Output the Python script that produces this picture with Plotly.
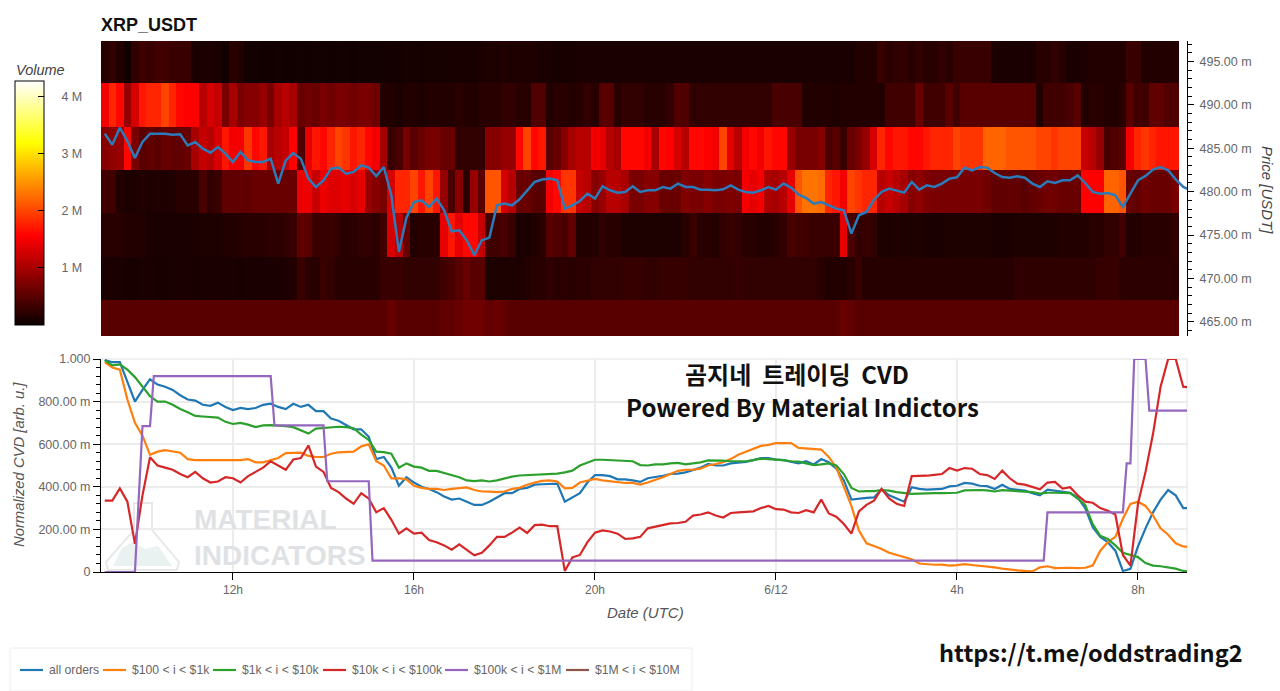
import pandas as pd
import plotly.graph_objects as go

W, H = 1280, 691

# heatmap: volume in M per 10 min column, one list per price band
price_bands = [465, 470, 475, 480, 485, 490, 495]

vol_495 = [.2,.25,.15,.05,.25,.35,.3,.35,.35,.3,
           .3,.3,.1,.1,.1,.1,.05,.2,.15,.06,
           .06,.05,.05,.06,.05,.05,.06,.05,.06,.06,
           .05,.06,.06,.05,.06,.06,.06,.06,.07,.07,
           .08,.08,.07,.08,.08,.08,.08,.09,.09,.08,
           .1,.12,.12,.14,.12,.13,.13,.12,.1,.1,
           .08,.08,.09,.1,.1,.1,.1,.11,.1,.1,
           .1,.1,.1,.1,.11,.11,.1,.1,.1,.1,
           .1,.11,.1,.1,.1,.1,.11,.1,.1,.1,
           .1,.1,.1,.1,.1,.11,.1,.1,.1,.1,
           .15,.15,.15,.3,.2,.25,.25,.2,.25,.2,
           .2,.25,.2,.3,.3,.3,.3,.3,.12,.1,
           .1,.1,.1,.1,.2,.2,.25,.2,.1,.1,
           .12,.15,.15,.15,.15,.15,.3,.3,.15,.15,
           .15,.15,.15]
vol_490 = [1.5,1.8,1.6,.9,1.3,1.7,1.8,1.8,2.0,1.8,
           1.6,1.55,1.55,1.1,1.3,1.2,.7,1.0,.7,.8,
           .8,.9,.7,1.0,1.1,1.0,.6,.65,.6,.7,
           .65,.7,.7,.65,.7,.7,.65,.15,.15,.1,
           .15,.15,.12,.15,.15,.15,.15,.2,.15,.15,
           .2,.2,.2,.25,.25,.2,.2,.45,.45,.15,
           .2,.2,.15,.2,.25,.2,.5,.5,.2,.25,
           .25,.25,.2,.2,.2,.25,.45,.45,.25,.25,
           .25,.25,.25,.25,.25,.25,.25,.25,.25,.4,
           .4,.4,.4,.15,.15,.15,.15,.12,.15,.15,
           .15,.15,.15,.15,.35,.35,.35,.35,.6,.35,
           .35,.35,.5,.35,.5,.5,.5,.5,.5,.5,
           .5,.5,.5,.5,.15,.35,.35,.35,.4,.5,
           .15,.2,.2,.15,.15,.2,.5,.35,.35,.55,
           .55,.45,.45]
vol_485 = [.8,.85,.9,1.6,.7,.5,.55,.5,.6,.55,
           .55,.6,1.0,1.2,1.1,1.3,1.7,1.5,1.5,1.9,
           1.6,1.7,1.0,1.1,1.2,1.55,.45,1.4,1.7,1.6,
           1.8,2.0,1.9,1.7,1.8,1.6,1.5,1.0,.3,.4,
           .7,.5,.6,.7,.7,.6,.6,.25,.25,.25,
           .25,.8,.8,.9,.9,1.6,2.0,1.6,1.7,.5,
           .6,.8,1.0,1.1,1.1,1.5,1.4,1.1,1.0,1.6,
           1.6,1.6,1.5,1.0,1.6,1.55,1.3,1.1,1.6,1.6,
           1.55,1.5,2.0,1.4,1.1,1.5,1.6,1.5,1.7,1.6,
           1.6,.9,.7,.7,.7,.8,.4,.5,.3,.6,
           .7,.9,1.3,1.8,1.6,1.7,1.7,1.6,1.6,1.7,
           1.8,1.8,1.8,2.0,1.9,1.9,1.9,2.2,2.2,2.2,
           2.1,2.1,2.1,2.1,2.0,2.0,1.9,2.0,2.0,2.0,
           1.2,1.1,.9,.4,.45,.5,1.5,1.8,1.9,1.8,
           1.7,1.7,1.7]
vol_480 = [.35,.35,.15,.12,.12,.14,.12,.14,.12,.14,
           .2,.2,.2,.4,.25,.3,.55,.55,.55,.55,
           .6,.6,.6,.6,.6,.6,1.45,1.45,1.2,1.45,
           1.35,1.35,1.4,1.3,1.4,.9,.8,.7,1.3,1.8,
           1.8,2.0,1.7,2.0,1.7,.9,.4,.8,.2,.9,
           .5,2.1,2.1,1.3,1.1,.6,.6,.5,.5,1.5,
           1.6,1.9,1.9,1.2,1.1,.8,.9,1.1,1.1,1.0,
           .7,.7,.8,.8,.6,.6,.6,.75,.7,.7,
           .8,.7,.7,.75,.7,1.5,1.4,1.5,1.05,1.0,
           1.1,1.4,2.1,2.3,2.3,2.25,1.8,1.7,1.5,2.0,
           1.9,1.8,1.8,1.1,1.2,1.1,1.0,.8,.85,.75,
           .7,.7,.7,.7,.7,.7,.7,.65,.55,.55,
           .55,.55,.5,.55,.6,.65,.65,.6,.6,.6,
           1.55,1.55,1.55,2.2,2.2,2.1,.6,.55,.65,.6,
           .6,.6,.7]
vol_475 = [.2,.2,.2,.15,.15,.15,.1,.1,.1,.1,
           .1,.1,.1,.12,.12,.12,.15,.15,.18,.2,
           .2,.2,.22,.22,.25,.3,.55,.5,.3,.3,
           .3,.25,.2,.22,.25,.25,.22,.35,1.3,1.1,
           .6,.15,.2,.2,.2,1.4,1.7,1.4,1.6,1.6,
           1.2,.35,.35,.4,.3,.1,.1,.15,.2,.5,
           .45,.4,.55,.15,.15,.15,.25,.2,.2,.12,
           .12,.12,.12,.12,.12,.12,.12,.2,.3,.2,
           .2,.15,.25,.3,.25,.2,.2,.15,.15,.2,
           .25,.4,.35,.35,.3,.3,.3,.3,1.4,.4,
           .25,.3,.25,.12,.12,.14,.12,.12,.12,.1,
           .1,.1,.12,.12,.12,.12,.12,.12,.1,.1,
           .1,.12,.12,.12,.12,.12,.12,.15,.15,.15,
           .15,.2,.2,.25,.25,.35,.15,.15,.2,.2,
           .2,.2,.25]
vol_470 = [.1,.1,.1,.09,.09,.1,.1,.09,.09,.1,
           .1,.1,.09,.1,.1,.1,.1,.1,.09,.1,
           .1,.1,.1,.1,.12,.15,.3,.2,.2,.3,
           .25,.2,.2,.2,.2,.2,.2,.3,.3,.3,
           .25,.25,.25,.25,.25,.35,.4,.5,.6,.5,
           .5,.12,.12,.12,.12,.12,.15,.2,.2,.25,
           .2,.22,.2,.22,.22,.25,.25,.25,.25,.28,
           .28,.28,.25,.25,.28,.28,.28,.28,.25,.25,
           .25,.25,.25,.25,.28,.25,.25,.25,.25,.25,
           .25,.25,.25,.25,.25,.2,.15,.15,.15,.2,
           .3,.18,.18,.18,.18,.18,.18,.18,.18,.18,
           .18,.18,.18,.18,.18,.18,.18,.18,.18,.18,
           .18,.23,.23,.23,.23,.23,.23,.23,.23,.23,
           .23,.23,.28,.28,.28,.22,.22,.22,.22,.22,
           .22,.22,.22]
vol_465 = [.5,.5,.5,.5,.5,.5,.5,.5,.5,.5,
           .5,.5,.5,.5,.5,.5,.5,.5,.5,.5,
           .5,.5,.5,.5,.5,.5,.5,.5,.5,.5,
           .5,.5,.5,.5,.5,.5,.5,.5,.6,.5,
           .5,.5,.5,.5,.5,.55,.55,.6,.65,.65,
           .65,.55,.6,.55,.5,.5,.5,.5,.5,.5,
           .5,.5,.5,.5,.5,.5,.5,.5,.5,.5,
           .5,.5,.5,.5,.5,.5,.5,.5,.5,.5,
           .5,.5,.5,.5,.5,.5,.5,.5,.5,.5,
           .5,.5,.5,.5,.5,.5,.5,.5,.6,.55,
           .5,.5,.5,.5,.5,.5,.5,.5,.5,.5,
           .5,.5,.5,.5,.5,.5,.5,.5,.5,.5,
           .5,.5,.5,.5,.5,.5,.5,.5,.5,.5,
           .5,.5,.5,.5,.5,.5,.5,.5,.5,.5,
           .5,.5,.5]

# price in m, 10 min steps
price = [486.68,485.41,487.37,485.83,483.88,485.72,486.68,486.68,486.68,486.56,
         486.6,485.33,485.72,484.95,484.49,485.14,484.38,483.42,484.57,483.61,
         483.42,483.42,483.8,480.92,483.61,484.45,483.8,481.5,480.54,481.3,
         482.65,482.77,482.07,482.27,483.03,482.77,481.8,482.84,479.58,473.06,
         477.01,478.81,479.0,478.24,479.2,477.86,475.44,475.56,474.4,472.68,
         474.4,474.71,478.43,478.62,478.43,479.12,480.08,481.12,481.39,481.5,
         481.31,478.05,478.43,478.93,479.77,479.2,480.62,480.16,479.89,479.97,
         480.62,479.97,480.16,480.16,480.54,480.35,480.93,480.54,480.54,480.23,
         480.23,480.16,480.27,480.73,480.23,479.97,479.89,480.16,480.54,480.23,
         480.93,480.47,479.66,479.28,478.62,478.81,478.43,478.05,477.86,475.17,
         477.28,477.66,479.08,479.97,480.35,480.08,479.89,481.12,480.23,480.73,
         480.54,480.93,481.5,481.65,482.77,482.46,482.84,482.77,482.15,481.69,
         481.61,481.77,481.61,480.93,480.54,481.19,481.0,481.31,481.31,481.88,
         481.0,479.97,479.77,479.85,479.58,478.24,479.77,481.31,481.81,482.54,
         482.84,482.46,481.42,480.54,480.16]

cvd_all = [.995,.985,.985,.89,.80,.855,.905,.88,.87,.855,
           .83,.81,.805,.785,.78,.795,.775,.76,.77,.765,
           .77,.785,.79,.775,.765,.79,.775,.785,.755,.755,
           .72,.71,.69,.67,.67,.635,.53,.54,.49,.405,
           .445,.42,.40,.39,.375,.355,.34,.345,.33,.315,
           .315,.33,.35,.37,.37,.39,.395,.41,.412,.415,
           .415,.33,.35,.37,.42,.455,.455,.45,.435,.435,
           .43,.423,.44,.445,.452,.46,.462,.468,.48,.49,
           .508,.5,.5,.51,.513,.517,.525,.535,.535,.528,
           .525,.518,.51,.52,.505,.53,.515,.485,.43,.34,
           .345,.348,.35,.388,.36,.345,.33,.398,.39,.387,
           .39,.39,.402,.405,.418,.415,.405,.403,.39,.41,
           .39,.385,.382,.37,.36,.387,.382,.38,.372,.35,
           .30,.21,.165,.14,.10,.005,.015,.12,.205,.28,
           .34,.385,.36,.30,.30]
cvd_100_1k = [.985,.96,.95,.81,.70,.64,.55,.565,.572,.565,
              .56,.53,.525,.525,.525,.525,.523,.522,.525,.53,
              .515,.515,.525,.535,.558,.56,.56,.545,.54,.54,
              .555,.562,.565,.565,.59,.60,.52,.50,.44,.44,
              .435,.405,.395,.39,.39,.385,.39,.395,.397,.385,
              .378,.377,.375,.378,.39,.395,.41,.42,.428,.43,
              .425,.393,.395,.42,.43,.437,.43,.425,.42,.418,
              .418,.41,.42,.432,.445,.46,.475,.48,.48,.485,
              .50,.507,.515,.53,.55,.565,.58,.592,.597,.605,
              .605,.605,.583,.58,.578,.575,.54,.49,.40,.31,
              .195,.135,.122,.108,.09,.08,.073,.06,.04,.036,
              .034,.035,.03,.032,.037,.033,.03,.028,.022,.016,
              .011,.008,.005,.003,.022,.027,.018,.02,.02,.018,
              .02,.03,.10,.14,.165,.25,.32,.33,.31,.265,
              .205,.175,.135,.12,.115]
cvd_1k_10k = [.995,.97,.975,.95,.915,.87,.825,.80,.80,.785,
              .765,.75,.733,.73,.728,.725,.705,.695,.70,.692,
              .68,.688,.69,.688,.685,.68,.665,.65,.673,.675,
              .68,.682,.68,.675,.645,.62,.565,.563,.555,.49,
              .51,.495,.49,.475,.475,.465,.455,.445,.43,.427,
              .43,.425,.43,.44,.448,.453,.455,.457,.46,.462,
              .462,.468,.476,.50,.515,.527,.527,.525,.523,.522,
              .52,.502,.50,.505,.505,.51,.512,.505,.51,.515,
              .524,.524,.523,.52,.52,.52,.525,.532,.53,.528,
              .525,.52,.518,.51,.502,.505,.51,.50,.46,.395,
              .378,.38,.38,.385,.382,.375,.37,.367,.368,.37,
              .37,.37,.371,.372,.383,.385,.385,.383,.378,.384,
              .382,.382,.38,.375,.368,.372,.372,.37,.37,.345,
              .315,.225,.17,.155,.125,.09,.08,.07,.042,.03,
              .027,.022,.016,.005,.0]
cvd_10k_100k = [.335,.335,.392,.33,.132,.36,.539,.50,.49,.48,
                .46,.445,.47,.44,.42,.425,.445,.44,.42,.45,
                .47,.49,.52,.50,.48,.528,.535,.594,.495,.47,
                .395,.375,.345,.32,.37,.345,.28,.30,.245,.18,
                .205,.18,.185,.15,.14,.125,.105,.13,.105,.078,
                .09,.125,.165,.165,.185,.208,.183,.22,.222,.215,
                .215,.005,.068,.08,.14,.185,.195,.19,.18,.155,
                .158,.165,.205,.213,.223,.228,.23,.236,.265,.27,
                .28,.265,.256,.277,.28,.283,.285,.30,.31,.295,
                .293,.28,.277,.29,.28,.34,.275,.26,.225,.18,
                .285,.315,.335,.39,.345,.32,.31,.45,.45,.452,
                .456,.46,.488,.476,.488,.485,.46,.455,.437,.476,
                .44,.415,.41,.40,.388,.42,.423,.392,.398,.36,
                .33,.325,.30,.288,.27,.08,.03,.32,.47,.65,
                .87,1.0,1.0,.87,.865]

# this one moves in steps, so it keeps its own times
cvd_100k_1m_time = ["06-11 09:10","06-11 09:50","06-11 10:00","06-11 10:10","06-11 10:15",
                    "06-11 12:50","06-11 12:55","06-11 14:00","06-11 14:05","06-11 15:00",
                    "06-11 15:05","06-12 05:55","06-12 06:00","06-12 07:40","06-12 07:45",
                    "06-12 07:50","06-12 07:55","06-12 08:10","06-12 08:15","06-12 09:10"]
cvd_100k_1m = [0,0,.685,.685,.92,.92,.688,.688,.426,.426,
               .053,.053,.28,.28,.51,.51,1.0,1.0,.758,.758]

series_names = ["all orders", "$100 < i < $1k", "$1k < i < $10k", "$10k < i < $100k",
                "$100k < i < $1M", "$1M < i < $10M"]
series_colors = ["#1f77b4", "#ff7f0e", "#2ca02c", "#d62728", "#9467bd", "#8c564b"]
legend_x = [20, 103, 213, 323, 445, 566]

x_ticks = ["2022-06-11 12:00", "2022-06-11 16:00", "2022-06-11 20:00",
           "2022-06-12 00:00", "2022-06-12 04:00", "2022-06-12 08:00"]
x_labels = ["12h", "16h", "20h", "6/12", "4h", "8h"]
price_ticks = [465, 470, 475, 480, 485, 490, 495]
price_labels = ["465.00 m", "470.00 m", "475.00 m", "480.00 m", "485.00 m", "490.00 m", "495.00 m"]
cvd_ticks = [0, .2, .4, .6, .8, 1]
cvd_labels = ["0", "200.00 m", "400.00 m", "600.00 m", "800.00 m", "1.000"]
volume_ticks = [1, 2, 3, 4]
volume_labels = ["1 M", "2 M", "3 M", "4 M"]

assert all(len(v) == 143 for v in [vol_465, vol_470, vol_475, vol_480, vol_485, vol_490, vol_495])
assert all(len(v) == 145 for v in [price, cvd_all, cvd_100_1k, cvd_1k_10k, cvd_10k_100k])

hot = [[0, "#0a0000"], [.365, "#ff0000"], [.746, "#ffff00"], [1, "#ffffff"]]
font = "Liberation Sans, Arial, sans-serif"
korean = "Noto Sans CJK KR"
grey = "#666666"
gap = "\u00a0\u00a0"

x_time = pd.date_range("2022-06-11 09:10", periods=145, freq="10min")
x_range = ["2022-06-11 09:05", "2022-06-12 09:05"]


def px(x, y):
    # pixel position to paper position, margins are zero
    return x / W, 1 - y / H


fig = go.Figure()

fig.add_trace(go.Heatmap(
    x=x_time[:143], y=price_bands,
    z=[vol_465, vol_470, vol_475, vol_480, vol_485, vol_490, vol_495],
    colorscale=hot, zmin=0, zmax=4.28, hoverinfo="skip",
    colorbar=dict(
        xref="container", yref="container", x=15 / W, xanchor="left",
        y=1 - 325 / H, yanchor="bottom", thicknessmode="pixels", thickness=29,
        lenmode="pixels", len=244, xpad=0, ypad=0,
        outlinecolor="black", outlinewidth=1,
        tickvals=volume_ticks, ticktext=[gap + gap + t for t in volume_labels],
        ticks="inside", ticklen=6, tickcolor="black",
        tickfont=dict(family=font, size=12.5, color=grey),
    ),
))
fig.add_trace(go.Scatter(x=x_time, y=price, mode="lines", showlegend=False,
                         line=dict(color="#2b7bba", width=2.5), hoverinfo="skip"))

for name, color, values in zip(series_names[:4], series_colors, [cvd_all, cvd_100_1k, cvd_1k_10k, cvd_10k_100k]):
    fig.add_trace(go.Scatter(x=x_time, y=values, name=name, mode="lines", xaxis="x2", yaxis="y2",
                             line=dict(color=color, width=2.2)))
fig.add_trace(go.Scatter(x=["2022-" + t for t in cvd_100k_1m_time], y=cvd_100k_1m, name=series_names[4],
                         mode="lines", xaxis="x2", yaxis="y2", line=dict(color=series_colors[4], width=2.2)))

fig.update_layout(
    width=W, height=H, margin=dict(l=0, r=0, t=0, b=0, autoexpand=False),
    paper_bgcolor="white", plot_bgcolor="white", showlegend=False,
    font=dict(family=font, color=grey, size=12),
    xaxis=dict(domain=[101 / W, 1187 / W], range=x_range, anchor="y", showticklabels=False,
               showgrid=False, ticks="", zeroline=False),
    yaxis=dict(domain=[1 - 336 / H, 1 - 41 / H], range=[463.38, 497.35], side="right", anchor="x",
               showgrid=False, zeroline=False, showline=True, linecolor="black", linewidth=1,
               ticks="outside", ticklen=6, tickcolor="black", tickvals=price_ticks, ticktext=price_labels,
               ticklabelstandoff=3, tickfont=dict(size=12.5, color=grey),
               minor=dict(dtick=1, ticks="outside", ticklen=4, tickcolor="black", showgrid=False)),
    xaxis2=dict(domain=[101 / W, 1187 / W], range=x_range, anchor="y2", showgrid=True, gridcolor="#ececec",
                gridwidth=1.5, zeroline=False, showline=True, linecolor="black", linewidth=1, ticks="outside",
                ticklen=7, tickcolor="black", tickvals=x_ticks, ticktext=x_labels,
                tickfont=dict(size=12, color=grey)),
    yaxis2=dict(domain=[1 - 572 / H, 1 - 359 / H], range=[0, 1], anchor="x2", showgrid=True, gridcolor="#ececec",
                gridwidth=1.5, zeroline=False, showline=True, linecolor="black", linewidth=1, ticks="outside",
                ticklen=7, tickcolor="black", tickvals=cvd_ticks, ticktext=cvd_labels,
                tickfont=dict(size=12.5, color=grey),
                minor=dict(dtick=.04, ticks="outside", ticklen=4, tickcolor="black", showgrid=False)),
    hovermode=False,
)


def paper_line(x0, y0, x1, y1, color, width):
    return dict(type="line", xref="paper", yref="paper", x0=x0 / W, x1=x1 / W, y0=1 - y0 / H, y1=1 - y1 / H,
                line=dict(color=color, width=width), layer="below")


# frame of the lower plot, the legend box and the flask of the watermark
shapes = [paper_line(101, 359, 1187, 359, "#ececec", 1.5), paper_line(1187, 359, 1187, 572, "#ececec", 1.5)]
shapes.append(dict(type="rect", xref="paper", yref="paper", x0=10 / W, x1=692 / W, y0=1 - 648 / H, y1=0,
                   line=dict(color="#eeeeee", width=1), layer="below"))
flask = [(134, 503), (152, 503), (152, 530), (179, 562), (177, 570), (108, 570), (106, 562), (134, 530)]
path = "M " + " L ".join("%.5f,%.5f" % px(*p) for p in flask) + " Z"
shapes.append(dict(type="path", xref="paper", yref="paper", path=path, fillcolor="rgba(0,0,0,0)",
                   line=dict(color="#e6e8e9", width=2), layer="below"))
hill = [(113, 566), (122, 548), (133, 542), (145, 549), (158, 546), (172, 566)]
path = "M " + " L ".join("%.5f,%.5f" % px(*p) for p in hill) + " Z"
shapes.append(dict(type="path", xref="paper", yref="paper", path=path, fillcolor="#e9f1f1",
                   line=dict(width=0), layer="below"))
for lx, color in zip(legend_x, series_colors):
    shapes.append(paper_line(lx, 670, lx + 23, 670, color, 2.2))
fig.update_layout(shapes=shapes)

notes = [
    ("<b>XRP_USDT</b>", 99, 25, "left", font, 18, "#111111", 0),
    ("<b>곰지네" + gap + "트레이딩" + gap + "CVD</b>", 797, 373, "center", korean, 24, "#111111", 0),
    ("<b>Powered By Material Indictors</b>", 802, 406, "center", korean, 24, "#111111", 0),
    ("<b>https://t.me/oddstrading2</b>", 1091, 652, "center", korean, 23.5, "#111111", 0),
    ("<b>MATERIAL</b>", 192, 519, "left", font, 28, "#dfe2e4", 0),
    ("<b>INDICATORS</b>", 192, 555, "left", font, 28, "#dfe2e4", 0),
    ("<i>Volume</i>", 14, 70, "left", font, 14.5, "#444444", 0),
    ("<i>Price [USDT]</i>", 1268, 190, "center", font, 15, "#444444", 90),
    ("<i>Normalized CVD [arb. u.]</i>", 19, 465, "center", font, 14.8, "#555555", -90),
    ("<i>Date (UTC)</i>", 645, 612, "center", font, 15, "#555555", 0),
]
for lx, name in zip(legend_x, series_names):
    notes.append((name, lx + 27, 670, "left", font, 12.2, grey, 0))
for text, x, y, anchor, family, size, color, angle in notes:
    fig.add_annotation(text=text, xref="paper", yref="paper", x=px(x, y)[0], y=px(x, y)[1], xanchor=anchor,
                       yanchor="middle", showarrow=False, textangle=angle,
                       font=dict(family=family, size=size, color=color))

fig.write_html("out.html", config=dict(displayModeBar=False), post_script="document.body.style.margin='0';")
